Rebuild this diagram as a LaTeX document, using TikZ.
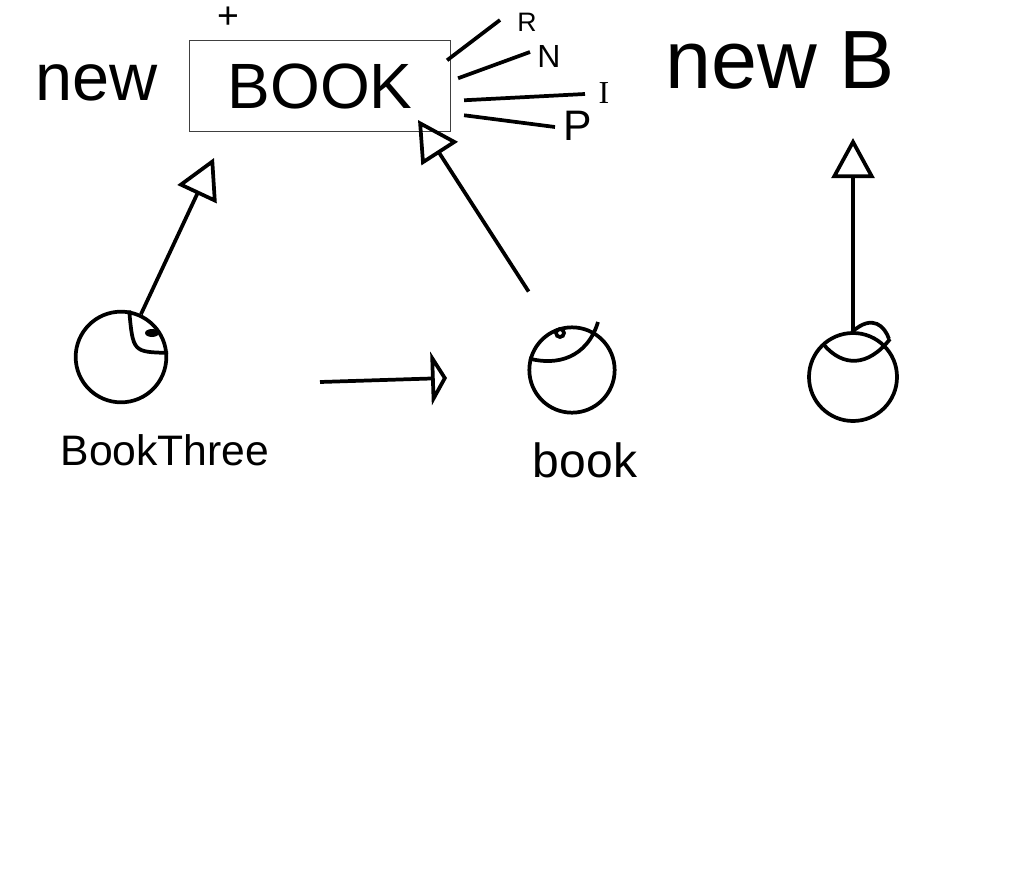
\documentclass[tikz,border=0pt]{standalone}
\usepackage{fontspec}
\setmainfont{Liberation Sans}
\newfontfamily\serifI{Liberation Serif}
\usetikzlibrary{arrows.meta,calc}

\tikzset{every picture/.style={line width=2.8pt}}
\tikzset{
	hollow/.style={-{Triangle[open,length=30pt,width=32pt]}},
	ball/.style={circle,draw,minimum size=#1,inner sep=0pt},
	big/.style={font=\fontsize{#1}{#1}\selectfont,inner sep=0pt}
}

\begin{document}
\begin{tikzpicture}[x=0.75pt,y=0.75pt,yscale=-1,xscale=1]
	\useasboundingbox (0,0) rectangle (1019,870);
	\fill[white] (0,0) rectangle (1019,870);

	% Text Node
	\node[big=50] (newA) at (97,83) {new};
	% Box [id:book]
	\node[draw=black!75,line width=0.6pt,minimum width=196pt,minimum height=68pt,big=48] (book) at (320,86) {BOOK};
	% Text Node
	\node[big=28] (plus) at (228,18) {+};
	\node[big=20] (labR) at (527,22) {R};
	\node[big=24] (labN) at (549,56) {N};
	\node[big=24] (labI) at (604,93) {\serifI I};
	\node[big=32] (labP) at (578,126) {P};
	% Text Node
	\node[big=62] (newB) at (780,60) {new B};

	%Straight Lines to the labels
	\coordinate (legR) at ([shift={(-4,20)}]book.north east);
	\coordinate (legN) at ([shift={(7,38)}]book.north east);
	\coordinate (legI) at ([shift={(13,60)}]book.north east);
	\coordinate (legP) at ([shift={(13,75)}]book.north east);
	\coordinate (endR) at (500,20);
	\coordinate (endN) at (530,52);
	\coordinate (endI) at (585,94);
	\coordinate (endP) at (555,127);
	\draw (legR) -- (endR);
	\draw (legN) -- (endN);
	\draw (legI) -- (endI);
	\draw (legP) -- (endP);

	%Circles
	\node[ball=68pt] (c1) at (121,357) {};
	\node[ball=64pt] (c2) at (572,370) {};
	\node[ball=66pt] (c3) at (853,377) {};
	% Text Node
	\node[big=32] (labC1) at (165,450) {BookThree};
	\node[big=36] (labC2) at (585,460) {book};

	%Marks inside the circles
	\draw (c1.80) .. controls ($(c1)+(12,-5)$) .. (c1.5);
	\fill ($(c1)+(31,-24)$) ellipse [x radius=7,y radius=4];
	\draw (c2.165) .. controls ($(c2)+(-15,-4)$) and ($(c2)+(15,-12)$) .. ($(c2)+(26,-48)$);
	\draw ($(c2)+(-12,-37)$) circle [radius=4];
	\draw ($(c3)+(-29,-32)$) .. controls ($(c3)+(-10,-10)$) and ($(c3)+(15,-10)$) .. ($(c3)+(37,-38)$);
	\draw ($(c3)+(-1,-45)$) .. controls ($(c3)+(20,-64)$) and ($(c3)+(32,-50)$) .. ($(c3)+(36,-38)$);

	%Arrows
	\coordinate (tipA) at (214,158);
	\coordinate (tipB) at (418,120);
	\coordinate (tipD) at (853,138);
	\coordinate (hs) at (320,382);
	\coordinate (he) at (447,378);
	\draw[hollow] (c1.65) -- (tipA);
	\draw[hollow,shorten <=34pt] (c2.115) -- (tipB);
	\draw[-{Triangle[open,length=12pt,width=40pt]}] (hs) -- (he);
	\draw[hollow] (c3.north) -- (tipD);

\end{tikzpicture}
\end{document}
